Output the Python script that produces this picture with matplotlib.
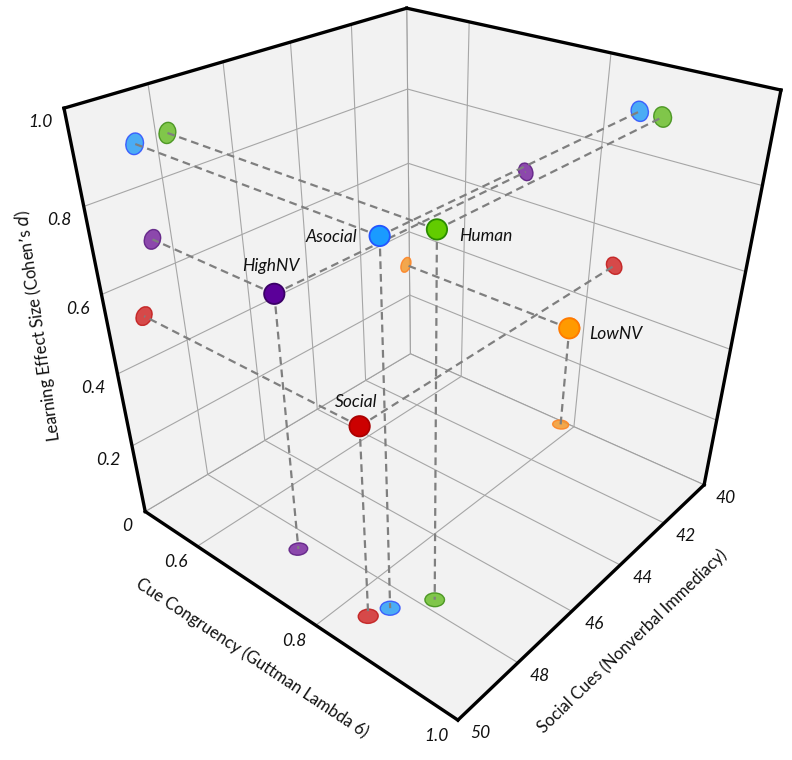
import numpy as np
import matplotlib
matplotlib.use('Agg')
import matplotlib.pyplot as plt
from matplotlib.patches import Ellipse
from matplotlib.transforms import IdentityTransform
from mpl_toolkits.mplot3d import proj3d, art3d
from mpl_toolkits.mplot3d.art3d import Poly3DCollection

# ---------------- data ----------------
categories = ['Asocial', 'Human', 'HighNV', 'LowNV', 'Social']
cue_congruency = [0.844, 0.873, 0.695, 0.783, 0.834]
social_cues = [48.55, 47.7, 48.5, 40.15, 49.05]
effect_size = [0.89, 0.89, 0.675, 0.303, 0.508]

cue_ticks = [0.6, 0.8, 1.0]
cue_tick_labels = ['0.6', '0.8', '1.0']
social_ticks = [40, 42, 44, 46, 48, 50]
social_tick_labels = ['40', '42', '44', '46', '48', '50']
effect_ticks = [0, 0.2, 0.4, 0.6, 0.8, 1.0]
effect_tick_labels = ['0', '0.2', '0.4', '0.6', '0.8', '1.0']

main_fill = ['#1a9bff', '#62cc00', '#5b0099', '#ff9a00', '#cc0000']
main_edge = ['#2255ff', '#2a8c00', '#3a0066', '#ff7a00', '#aa0000']
proj_fill = ['#2ea0f5', '#6cbf2c', '#7a2aa0', '#f39a30', '#d12b2b']
proj_edge = ['#2d4dff', '#3d8d14', '#5a1a80', '#ff8020', '#c01818']

# data ranges of the box
S_LIM = (40, 50)      # Social Cues
C_LIM = (0.5, 1.0)    # Cue Congruency
E_LIM = (0.0, 1.0)    # Learning effect size

# camera (view) settings
ELEV, AZIM, ROLL = 36.023, 40.674, 0.079
FOCAL = 0.2587
ZOOM = 0.9020
BOX = (1.0, 1.0031, 1.0064)
VIEW_OFFSET = (-0.0058, -0.0190, -0.3574)   # shift of the view window (fractions)
AX_SHIFT = (18.5, -78.4)                    # pixels

W, H = 792, 760
plt.rcParams['font.family'] = ['Lato', 'DejaVu Sans']

fig = plt.figure(figsize=(W / 100, H / 100), dpi=100)
ax = fig.add_axes([AX_SHIFT[0] / W, AX_SHIFT[1] / H, 1, 1], projection='3d',
                  computed_zorder=False)
ax.set_axis_off()

ox, oy, oz = VIEW_OFFSET
sl = (S_LIM[0] + ox * (S_LIM[1] - S_LIM[0]), S_LIM[1] + ox * (S_LIM[1] - S_LIM[0]))
cl = (C_LIM[0] + oy * (C_LIM[1] - C_LIM[0]), C_LIM[1] + oy * (C_LIM[1] - C_LIM[0]))
zl = (E_LIM[0] + oz * (E_LIM[1] - E_LIM[0]), E_LIM[1] + oz * (E_LIM[1] - E_LIM[0]))
try:
    ax.set_xlim(*sl, view_margin=0)
    ax.set_ylim(*cl, view_margin=0)
    ax.set_zlim(*zl, view_margin=0)
except TypeError:
    ax.set_xlim(*sl)
    ax.set_ylim(*cl)
    ax.set_zlim(*zl)
ax.view_init(elev=ELEV, azim=AZIM, roll=ROLL)
ax.set_proj_type('persp', focal_length=FOCAL)
ax.set_box_aspect(BOX, zoom=ZOOM)

s0, s1 = S_LIM
c0, c1 = C_LIM
e0, e1 = E_LIM

# ---------------- panes & grid ----------------
panes = [[(s0, c0, e0), (s1, c0, e0), (s1, c1, e0), (s0, c1, e0)],
         [(s0, c0, e0), (s0, c1, e0), (s0, c1, e1), (s0, c0, e1)],
         [(s0, c0, e0), (s1, c0, e0), (s1, c0, e1), (s0, c0, e1)]]
pc3 = Poly3DCollection(panes, facecolor='#f2f2f2', edgecolor='#a0a0a0',
                       linewidth=0.8, zorder=0)
pc3.set_clip_on(False)
ax.add_collection3d(pc3)
grid = dict(color='#a6a6a6', lw=0.8, zorder=1, clip_on=False)
for s in social_ticks[1:-1]:
    ax.plot([s, s], [c0, c1], [e0, e0], **grid)
    ax.plot([s, s], [c0, c0], [e0, e1], **grid)
for c in cue_ticks[:-1]:
    ax.plot([s0, s1], [c, c], [e0, e0], **grid)
    ax.plot([s0, s0], [c, c], [e0, e1], **grid)
for e in effect_ticks[1:-1]:
    ax.plot([s0, s0], [c0, c1], [e, e], **grid)
    ax.plot([s0, s1], [c0, c0], [e, e], **grid)

# projection markers: circles lying in the floor and the two back walls
r = 0.022
for i in range(len(categories)):
    s, c, e = social_cues[i], cue_congruency[i], effect_size[i]
    sty = dict(fc=proj_fill[i], ec=proj_edge[i], lw=1.0, alpha=0.85, zorder=2,
               clip_on=False)
    p = Ellipse((s, c), 2 * r * (s1 - s0), 2 * r * (c1 - c0), **sty)
    ax.add_patch(p)
    art3d.pathpatch_2d_to_3d(p, z=e0, zdir='z')
    p = Ellipse((c, e), 2 * r * (c1 - c0), 2 * r * (e1 - e0), **sty)
    ax.add_patch(p)
    art3d.pathpatch_2d_to_3d(p, z=s0, zdir='x')
    p = Ellipse((s, e), 2 * r * (s1 - s0), 2 * r * (e1 - e0), **sty)
    ax.add_patch(p)
    art3d.pathpatch_2d_to_3d(p, z=c0, zdir='y')

dash = dict(color='#7f7f7f', lw=1.6, linestyle=(0, (3.5, 2.2)), zorder=3,
            clip_on=False)
for i in range(len(categories)):
    s, c, e = social_cues[i], cue_congruency[i], effect_size[i]
    ax.plot([s, s], [c, c], [e, e0], **dash)
    ax.plot([s, s0], [c, c], [e, e], **dash)
    ax.plot([s, s], [c, c0], [e, e], **dash)

# outer silhouette of the box
edges = [((s1, s1), (c0, c1), (e0, e0)), ((s1, s0), (c1, c1), (e0, e0)),
         ((s1, s1), (c0, c0), (e0, e1)), ((s0, s0), (c1, c1), (e0, e1)),
         ((s1, s0), (c0, c0), (e1, e1)), ((s0, s0), (c0, c1), (e1, e1))]
for ex, ey, ez in edges:
    ax.plot(ex, ey, ez, color='black', lw=2.4, solid_capstyle='projecting',
            zorder=5, clip_on=False)

sc = ax.scatter(social_cues, cue_congruency, effect_size, s=215, c=main_fill,
                edgecolors=main_edge, linewidths=1.3, depthshade=False, zorder=6)
sc.set_clip_on(False)

fig.canvas.draw()
ID = IdentityTransform()


def project(xs, ys, zs):
    M = ax.get_proj()
    xp, yp, _ = proj3d.proj_transform(np.asarray(xs, float), np.asarray(ys, float),
                                      np.asarray(zs, float), M)
    return ax.transData.transform(np.column_stack([xp, yp]))


tick_kw = dict(fontsize=12.5, fontstyle='italic', color='#111111',
               ha='center', va='center', transform=ID)
pc = project([s1] * len(cue_ticks), cue_ticks, [e0] * len(cue_ticks))
for (x, y), lab in zip(pc, cue_tick_labels):
    fig.text(x - 21, y - 16, lab, **tick_kw)
ps = project(social_ticks, [c1] * len(social_ticks), [e0] * len(social_ticks))
for (x, y), lab in zip(ps, social_tick_labels):
    fig.text(x + 22, y - 13, lab, **tick_kw)
pz = project([s1] * len(effect_ticks), [c0] * len(effect_ticks), effect_ticks)
for (x, y), lab in zip(pz, effect_tick_labels):
    fig.text(x - 24 + (6 if lab == '0' else 0), y - 14, lab, **tick_kw)

lab_kw = dict(fontsize=12, color='#111111', ha='center', va='center',
              transform=ID, rotation_mode='anchor')
fig.text(38, H - 326, "Learning Effect Size (Cohen\u2019s $\\it{d}$)", rotation=98,
         **lab_kw)
fig.text(252, H - 658, 'Cue Congruency (Guttman Lambda 6)', rotation=-33.5, **lab_kw)
fig.text(632, H - 641, 'Social Cues (Nonverbal Immediacy)', rotation=44, **lab_kw)

offsets = {'Asocial': (-48, -1), 'Human': (49, -7), 'HighNV': (-3, 28),
           'LowNV': (46, -6), 'Social': (-3, 24)}
pp = project(social_cues, cue_congruency, effect_size)
for (x, y), name in zip(pp, categories):
    dx, dy = offsets[name]
    fig.text(x + dx, y + dy, name, fontsize=12.5, fontstyle='italic', color='#111111',
             ha='center', va='center', transform=ID)

fig.savefig('out.png', dpi=100)
